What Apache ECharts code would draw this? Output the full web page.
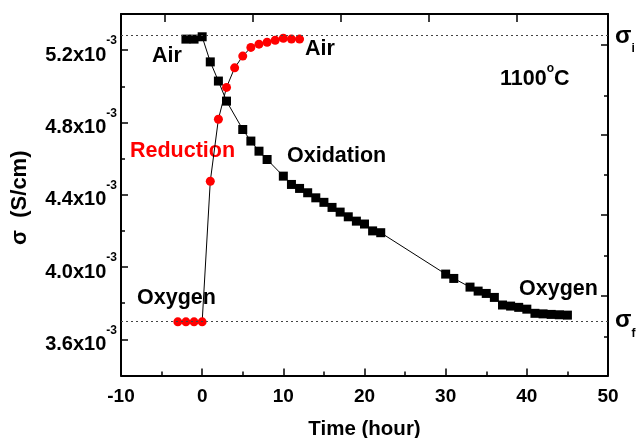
<!DOCTYPE html>
<html><head><meta charset="utf-8">
<script src="https://cdn.jsdelivr.net/npm/echarts@6/dist/echarts.min.js"></script>
<style>html,body{margin:0;padding:0;background:#fff}#c{width:636px;height:438px}</style>
</head><body><div id="c"></div>
<script>
// Oxidation (black squares): time (h) and conductivity (x10^-3 S/cm)
const oxTime = [-2,-1,0,1,2,3,5,6,7,8,10,11,12,13,14,15,16,17,18,19,20,21,22,30,31,33,34,35,36,37,38,39,40,41,42,43,44,45];
const oxSigma = [5.261,5.261,5.274,5.135,5.029,4.918,4.761,4.697,4.641,4.595,4.503,4.457,4.435,4.411,4.383,4.358,4.330,4.304,4.278,4.254,4.238,4.200,4.190,3.961,3.937,3.889,3.867,3.854,3.832,3.790,3.784,3.777,3.767,3.744,3.741,3.738,3.736,3.734];
// Reduction (red circles)
const redTime = [-3,-2,-1,0,1,2,3,4,5,6,7,8,9,10,11,12];
const redSigma = [3.697,3.697,3.697,3.697,4.475,4.818,4.994,5.102,5.167,5.215,5.233,5.244,5.255,5.266,5.261,5.261];
// reference levels
const sigmaI = 5.277;
const sigmaF = 3.697;
// axis ticks
const yMajor = [3.6,4.0,4.4,4.8,5.2];
const yMinor = [3.8,4.2,4.6,5.0];
const rightMajor = [5.228,4.730,4.287,3.839];
const rightMinor = [4.946,4.509,4.061,3.613];
const topTicks = [-4.56,6.28,17.12,27.97,38.81];

const FONT = 'Liberation Sans, Arial, sans-serif';
const chart = echarts.init(document.getElementById('c'));
const axisLine = {show:true, onZero:false, lineStyle:{color:'#000', width:2}};
const noLine = {show:false, onZero:false};
const tickStyle = {color:'#000', width:1.5};
const zip = (a,b) => a.map((v,i)=>[v,b[i]]);
const ann = (text, left, top, color) => ({type:'text', left, top,
  style:{text, font:'bold 21.5px '+FONT, fill:color||'#000'}});
const sigmaLabel = (sub, left, top, gap) => ({type:'text', left, top, style:{text:'{a|σ}{b|'+sub+'}{s| }',
  rich:{a:{font:'bold 24px '+FONT, fill:'#000', lineHeight:24, verticalAlign:'top'},
        b:{font:'bold 12px '+FONT, fill:'#000', lineHeight:12, verticalAlign:'bottom'},
        s:{fontSize:1, lineHeight:gap, width:0}}}});

chart.setOption({
  animation:false,
  grid:{left:121, right:28, top:14, bottom:62.5, containLabel:false, outerBoundsMode:'none'},
  xAxis:[{
    type:'value', min:-10, max:50, interval:10, position:'bottom',
    axisLine, splitLine:{show:false},
    axisTick:{inside:true, length:7, lineStyle:tickStyle},
    minorTick:{show:true, splitNumber:2, length:4, lineStyle:tickStyle},
    axisLabel:{fontFamily:FONT, fontWeight:'bold', fontSize:19, color:'#000', margin:12},
    name:'Time (hour)', nameLocation:'middle', nameGap:43,
    nameTextStyle:{fontFamily:FONT, fontWeight:'bold', fontSize:20.5, color:'#000'}
  },{
    type:'value', min:-10, max:50, position:'top',
    axisLine, splitLine:{show:false},
    axisTick:{inside:true, length:8, customValues:topTicks, lineStyle:tickStyle},
    axisLabel:{show:false}
  }],
  yAxis:[{
    type:'value', min:3.4, max:5.4, position:'left',
    axisLine, splitLine:{show:false},
    axisTick:{inside:true, length:7, customValues:yMajor, lineStyle:tickStyle},
    axisLabel:{customValues:yMajor, margin:4,
      formatter: v => '{a|' + v.toFixed(1) + 'x10}{b|-3}{s| }',
      rich:{
        a:{fontFamily:FONT, fontWeight:'bold', fontSize:20, color:'#000', lineHeight:20, verticalAlign:'bottom'},
        b:{fontFamily:FONT, fontWeight:'bold', fontSize:12, color:'#000', lineHeight:12, verticalAlign:'top'},
        s:{fontSize:1, lineHeight:30, width:0}
      }},
    name:'σ  (S/cm)', nameLocation:'middle', nameGap:90, nameRotate:90,
    nameTextStyle:{fontFamily:FONT, fontWeight:'bold', fontSize:22, color:'#000', padding:[0,6,0,0]}
  },{
    type:'value', min:3.4, max:5.4, position:'left',
    axisLine:noLine, splitLine:{show:false},
    axisTick:{inside:true, length:4, customValues:yMinor, lineStyle:tickStyle},
    axisLabel:{show:false}
  },{
    type:'value', min:3.4, max:5.4, position:'right',
    axisLine, splitLine:{show:false},
    axisTick:{inside:true, length:7, customValues:rightMajor, lineStyle:tickStyle},
    axisLabel:{show:false}
  },{
    type:'value', min:3.4, max:5.4, position:'right',
    axisLine:noLine, splitLine:{show:false},
    axisTick:{inside:true, length:4, customValues:rightMinor, lineStyle:tickStyle},
    axisLabel:{show:false}
  }],
  series:[{
    type:'line', name:'Oxidation', data:zip(oxTime, oxSigma),
    symbol:'rect', symbolSize:9, itemStyle:{color:'#000'},
    lineStyle:{color:'#000', width:1},
    markLine:{silent:true, symbol:'none', label:{show:false},
      lineStyle:{color:'#444', width:1, type:[2,3]},
      data:[{yAxis:sigmaI},{yAxis:sigmaF}]}
  },{
    type:'line', name:'Reduction', data:zip(redTime, redSigma),
    symbol:'circle', symbolSize:9, itemStyle:{color:'#ff0000'},
    lineStyle:{color:'#000', width:1}
  }],
  graphic:[
    ann('Air', 152, 45),
    ann('Air', 305, 38),
    ann('Reduction', 130, 140, '#ff0000'),
    ann('Oxidation', 287, 145),
    ann('Oxygen', 137, 287),
    ann('Oxygen', 519, 278),
    {type:'text', left:500, top:63, style:{text:'{a|1100}{b|o}{a|C}{s| }',
      rich:{a:{font:'bold 21.5px '+FONT, fill:'#000', lineHeight:22, verticalAlign:'bottom'},
            b:{font:'bold 12px '+FONT, fill:'#000', lineHeight:12, verticalAlign:'top'},
            s:{fontSize:1, lineHeight:27, width:0}}}},
    sigmaLabel('i', 615, 24, 31),
    sigmaLabel('f', 615, 308, 32)
  ]
});
</script></body></html>
